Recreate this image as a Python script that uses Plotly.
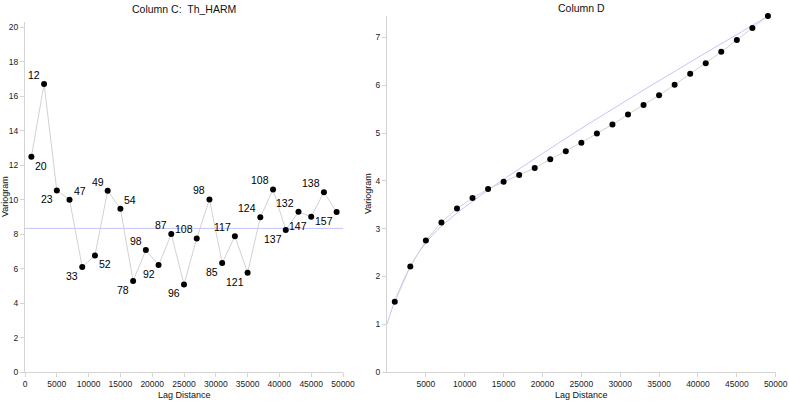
import plotly.graph_objects as go

W, H = 789, 401

# ---- data: Column C (Th_HARM) ----
lag_c = [1000, 3000, 5000, 7000, 9000, 11000, 13000, 15000, 17000, 19000,
         21000, 23000, 25000, 27000, 29000, 31000, 33000, 35000, 37000, 39000,
         41000, 43000, 45000, 47000, 49000]
vario_c = [12.48, 16.71, 10.53, 9.99, 6.09, 6.76, 10.51, 9.47, 5.28, 7.07,
           6.20, 8.00, 5.08, 7.75, 10.01, 6.32, 7.88, 5.76, 8.97, 10.59,
           8.23, 9.29, 9.00, 10.43, 9.28]
pairs_c = ["20", "12", "23", "47", "33", "52", "49", "54", "78", "98",
           "92", "87", "96", "108", "98", "85", "117", "121", "124", "108",
           "137", "132", "147", "138", "157"]
sill_c = 8.33

# ---- data: Column D ----
lag_d = lag_c
vario_d = [1.47, 2.21, 2.75, 3.13, 3.42, 3.64, 3.83, 3.98, 4.12, 4.27,
           4.45, 4.62, 4.80, 4.99, 5.18, 5.39, 5.59, 5.79, 6.01, 6.24,
           6.46, 6.70, 6.95, 7.20, 7.45]
model_lag_d = [0, 600, 1250, 2300, 3600, 5000, 6600, 8500, 10000, 12000, 14000,
               17000, 20000, 23000, 26500, 30000, 33000, 37000, 41000, 45000, 49000]
model_d = [1.00, 1.30, 1.58, 1.98, 2.38, 2.70, 2.99, 3.26, 3.45, 3.69, 3.92,
           4.25, 4.57, 4.89, 5.25, 5.60, 5.90, 6.29, 6.68, 7.06, 7.45]

x_ticks_c = list(range(0, 50001, 5000))
x_ticks_d = list(range(5000, 50001, 5000))
y_ticks_c = list(range(0, 21, 2))
y_ticks_d = list(range(0, 8))

# label placement (style): T/B = above/below, L/R = left/right of the point
label_pos = ["BR", "TL", "BL", "TR", "BL", "BR", "TL", "TR", "BL", "TL",
             "BL", "TL", "BL", "TL", "TL", "BL", "TL", "BL", "TL", "TL",
             "BL", "TL", "BL", "TL", "BL"]

FONT = "Liberation Sans, Arial, sans-serif"
GRAY_LINE = "#d2d2d2"
BLUE = "rgb(195,195,255)"
AX = "#d4d4d4"

fig = go.Figure()

# left panel
fig.add_trace(go.Scatter(x=[0, 50000], y=[sill_c, sill_c], mode="lines",
                         line=dict(color=BLUE, width=1), xaxis="x", yaxis="y",
                         hoverinfo="skip"))
fig.add_trace(go.Scatter(x=lag_c, y=vario_c, mode="lines+markers",
                         line=dict(color=GRAY_LINE, width=1),
                         marker=dict(color="black", size=6),
                         xaxis="x", yaxis="y", cliponaxis=False))

# right panel
fig.add_trace(go.Scatter(x=model_lag_d, y=model_d, mode="lines",
                         line=dict(color=BLUE, width=1, shape="spline", smoothing=1.0),
                         xaxis="x2", yaxis="y2", hoverinfo="skip"))
fig.add_trace(go.Scatter(x=lag_d, y=vario_d, mode="lines+markers",
                         line=dict(color=GRAY_LINE, width=1),
                         marker=dict(color="black", size=6),
                         xaxis="x2", yaxis="y2", cliponaxis=False))

annotations = []
for x, y, t, p in zip(lag_c, vario_c, pairs_c, label_pos):
    annotations.append(dict(
        x=x, y=y, xref="x", yref="y", text=t, showarrow=False,
        xanchor="left" if p[1] == "R" else "right",
        yanchor="middle",
        xshift=2 if p[1] == "R" else -2,
        yshift=9 if p[0] == "T" else -9,
        font=dict(family=FONT, size=10.5, color="black")))

def paper_x(px):
    return px / W

def paper_y(py):
    return 1 - py / H

def label(px, py, text, size, angle=0):
    return dict(x=paper_x(px), y=paper_y(py), xref="paper", yref="paper",
                xanchor="center", yanchor="middle", text=text, showarrow=False,
                textangle=angle, font=dict(family=FONT, size=size, color="#111"))

# titles
annotations += [
    label(184, 9, "Column C:\u00a0 Th_HARM", 10.5),
    label(581, 8, "Column D", 10.5),
    label(184, 395, "Lag Distance", 9),
    label(581, 395, "Lag Distance", 9),
    label(5, 197, "Variogram", 9, -90),
    label(368, 194, "Variogram", 9, -90),
]

axis_common = dict(showgrid=False, zeroline=False, showline=True, linecolor=AX,
                   linewidth=1, ticks="outside", ticklen=4, tickcolor=AX,
                   tickfont=dict(family=FONT, size=8.5, color="#222"),
                   tickformat="d", automargin=False)

fig.update_layout(
    width=W, height=H,
    margin=dict(l=0, r=0, t=0, b=0),
    paper_bgcolor="white", plot_bgcolor="white",
    showlegend=False,
    annotations=annotations,
    xaxis=dict(domain=[25 / W, 343 / W], range=[0, 50000], anchor="y",
               tickvals=x_ticks_c, **axis_common),
    yaxis=dict(domain=[1 - 372 / H, 1 - 22 / H], range=[0, 20.3], anchor="x",
               tickvals=y_ticks_c, **axis_common),
    xaxis2=dict(domain=[387 / W, 775.7 / W], range=[0, 50000], anchor="y2",
                tickvals=x_ticks_d, **axis_common),
    yaxis2=dict(domain=[1 - 372 / H, 1 - 16 / H], range=[0, 7.45], anchor="x2",
                tickvals=y_ticks_d, **axis_common),
)

fig.write_html("out.html", config={"displayModeBar": False},
               post_script="document.body.style.margin='0';document.body.style.padding='0';")
